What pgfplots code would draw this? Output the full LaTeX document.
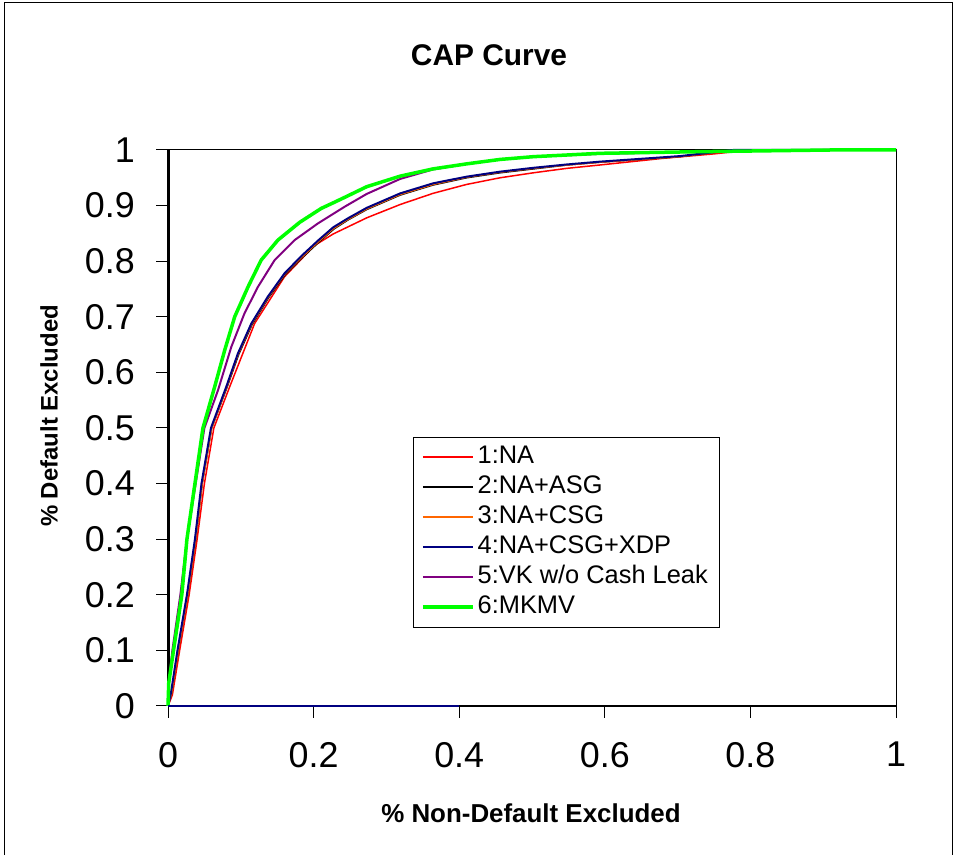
\documentclass[border=0pt]{standalone}
\usepackage{fontspec}
\setmainfont{Liberation Sans}
\usepackage{pgfplots}
\pgfplotsset{compat=1.18}
\definecolor{cnavy}{RGB}{0,0,128}
\definecolor{cpurple}{RGB}{128,0,128}
\definecolor{corange}{RGB}{255,102,0}
\definecolor{cgreen}{RGB}{0,255,0}
\definecolor{cred}{RGB}{255,0,0}
\begin{document}
\begin{tikzpicture}
\path (0bp,0bp) rectangle (955bp,855bp);
\draw[line width=1bp] (4.5bp,0bp) -- (4.5bp,852.5bp) -- (952.5bp,852.5bp) -- (952.5bp,0bp);
\node[font=\fontsize{30}{30}\selectfont\bfseries] at (489bp,800bp) {CAP Curve};
\node[font=\fontsize{26}{26}\selectfont\bfseries] at (531bp,42bp) {\% Non-Default Excluded};
\node[font=\fontsize{24}{24}\selectfont\bfseries, rotate=90] at (49bp,439bp) {\% Default Excluded};
\begin{axis}[
  at={(168bp,149bp)}, anchor=south west,
  scale only axis, width=728bp, height=556bp,
  xmin=0, xmax=1, ymin=0, ymax=1, clip=false,
  xtick={0,0.2,0.4,0.6,0.8,1},
  xticklabels={0,0.2,0.4,0.6,0.8,1},
  ytick={0,0.1,0.2,0.3,0.4,0.5,0.6,0.7,0.8,0.9,1},
  yticklabels={0,0.1,0.2,0.3,0.4,0.5,0.6,0.7,0.8,0.9,1},
  tick pos=left, tick align=outside, major tick length=12bp,
  tick style={black, line width=1bp},
  axis line style={line width=1bp},
  tick label style={font=\fontsize{36}{36}\selectfont},
  every y tick label/.append style={inner sep=0pt, xshift=-21bp},
  every x tick label/.append style={inner sep=0pt, yshift=-24bp},
  legend style={at={(rel axis cs:0.3365,0.4838)}, anchor=north west,
    font=\fontsize{25.5}{25.5}\selectfont,
    inner xsep=8bp, inner ysep=6bp, row sep=2bp,
    nodes={text height=19bp, text depth=7bp, inner ysep=1bp, inner xsep=3bp}},
  legend cell align=left,
  legend image code/.code={\draw[#1] (0bp,0bp) -- (50bp,0bp);},
  every axis plot/.append style={line join=round},
]
\draw[line width=2bp] (rel axis cs:0,0) -- (rel axis cs:1,0);
\draw[line width=3bp] (rel axis cs:0,0) -- (rel axis cs:0,1);

% 1: NA
\addplot[color=cred, line width=1.5bp] coordinates {
(0,0) (0.006,0.02) (0.016,0.1) (0.029,0.2) (0.040,0.3) (0.050,0.4) (0.063,0.5)
(0.0847,0.574) (0.119,0.688) (0.160,0.772) (0.201,0.828) (0.227,0.849) (0.273,0.878)
(0.319,0.902) (0.364,0.922) (0.410,0.938) (0.456,0.950) (0.502,0.959) (0.548,0.967)
(0.593,0.973) (0.68,0.985) (0.75,0.993) (0.8,1) (1,1)};
\addlegendentry{1:NA}
% 2: NA+ASG
\addplot[color=black, line width=1.5bp] coordinates {
(0,0) (0.005,0.023) (0.014,0.1) (0.027,0.2) (0.038,0.3) (0.047,0.4) (0.060,0.5)
(0.081,0.573) (0.097,0.632) (0.1155,0.686) (0.138,0.734) (0.161,0.776) (0.184,0.806)
(0.207,0.834) (0.228,0.858) (0.247,0.874) (0.273,0.893) (0.319,0.919) (0.364,0.937)
(0.410,0.950) (0.456,0.959) (0.502,0.966) (0.548,0.973) (0.593,0.978) (0.703,0.988) (0.776,1) (1,1)};
\addlegendentry{2:NA+ASG}
% 3: NA+CSG
\addplot[color=corange, line width=1.5bp] coordinates {
(0,0) (0.005,0.023) (0.014,0.1) (0.027,0.2) (0.038,0.3) (0.047,0.4) (0.060,0.5)
(0.0805,0.573) (0.0965,0.633) (0.115,0.687) (0.1375,0.735) (0.1605,0.777) (0.1835,0.807)
(0.2065,0.835) (0.2275,0.859) (0.247,0.875) (0.273,0.894) (0.319,0.920) (0.364,0.938)
(0.410,0.951) (0.456,0.960) (0.502,0.967) (0.548,0.973) (0.593,0.978) (0.703,0.988) (0.776,1) (1,1)};
\addlegendentry{3:NA+CSG}
% 4: NA+CSG+XDP
\addplot[color=cnavy, line width=2bp] coordinates {
(0,0) (0.004,0.023) (0.013,0.1) (0.026,0.2) (0.037,0.3) (0.046,0.4) (0.059,0.5)
(0.080,0.574) (0.096,0.634) (0.1145,0.688) (0.137,0.736) (0.160,0.778) (0.183,0.809)
(0.206,0.837) (0.227,0.861) (0.247,0.877) (0.273,0.896) (0.319,0.922) (0.364,0.940)
(0.410,0.952) (0.456,0.961) (0.502,0.968) (0.548,0.974) (0.593,0.979) (0.703,0.989) (0.776,1) (1,1)};
\addlegendentry{4:NA+CSG+XDP}
% 5: VK w/o Cash Leak
\addplot[color=cpurple, line width=2bp] coordinates {
(0,0) (0.001,0.04) (0.006,0.1) (0.017,0.2) (0.026,0.3) (0.038,0.4) (0.050,0.5)
(0.0687,0.568) (0.087,0.646) (0.105,0.706) (0.1236,0.754) (0.1465,0.802) (0.174,0.838)
(0.206,0.868) (0.2427,0.898) (0.273,0.921) (0.319,0.948) (0.364,0.965) (0.410,0.975)
(0.456,0.983) (0.502,0.988) (0.593,0.993) (0.731,0.997) (0.9,1) (1,1)};
\addlegendentry{5:VK w/o Cash Leak}
% 6: MKMV
\addplot[color=cgreen, line width=3.5bp] coordinates {
(0,0) (0.001,0.041) (0.0076,0.1) (0.019,0.2) (0.026,0.3) (0.037,0.4) (0.048,0.5)
(0.0641,0.574) (0.0779,0.640) (0.0916,0.700) (0.110,0.754) (0.128,0.802) (0.151,0.838)
(0.181,0.870) (0.2106,0.895) (0.227,0.905) (0.243,0.915) (0.273,0.934) (0.319,0.953)
(0.364,0.966) (0.410,0.975) (0.456,0.983) (0.502,0.988) (0.548,0.991) (0.593,0.994)
(0.731,0.997) (0.91,1) (1,1)};
\addlegendentry{6:MKMV}
% segment along the x axis
\addplot[color=cnavy, line width=2bp, forget plot] coordinates {(0,0) (0.4,0)};
\end{axis}
\end{tikzpicture}
\end{document}
